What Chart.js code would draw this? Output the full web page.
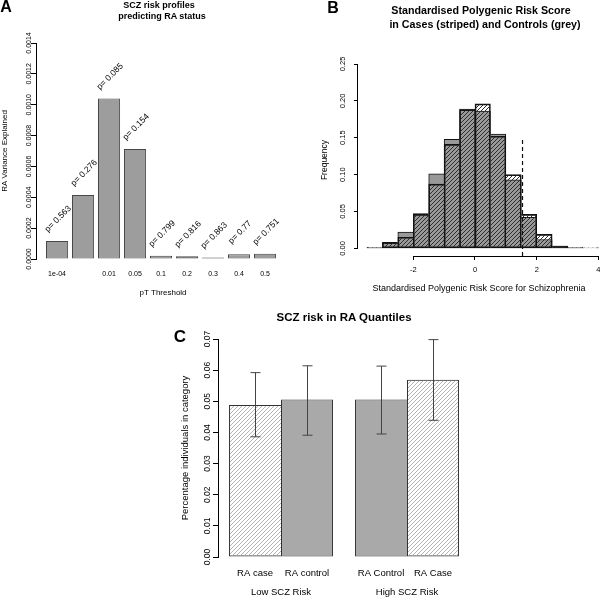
<!DOCTYPE html>
<html>
<head>
<meta charset="utf-8">
<script src="https://cdn.jsdelivr.net/npm/chart.js@4.4.1/dist/chart.umd.min.js"></script>
<style>
  body { margin: 0; background: #fff; }
  #page { position: relative; width: 600px; height: 597px; overflow: hidden; font-family: "Liberation Sans", Arial, sans-serif; }
  canvas { position: absolute; }
  .lbl { position: absolute; transform: translate(-50%, -50%); white-space: nowrap; font-weight: bold; line-height: 1; color: #000; }
</style>
</head>
<body>
<div id="page">
  <canvas id="chartA" width="300" height="300" style="left:0;top:0"></canvas>
  <canvas id="chartB" width="300" height="300" style="left:300px;top:0"></canvas>
  <canvas id="chartC" width="400" height="297" style="left:100px;top:300px"></canvas>

  <div class="lbl" style="left:6px;top:7px;font-size:16px">A</div>
  <div class="lbl" style="left:159px;top:5px;font-size:9px">SCZ risk profiles</div>
  <div class="lbl" style="left:162px;top:16px;font-size:9px">predicting RA status</div>

  <div class="lbl" style="left:333px;top:8px;font-size:16px">B</div>
  <div class="lbl" style="left:481px;top:10px;font-size:10.7px">Standardised Polygenic Risk Score</div>
  <div class="lbl" style="left:485px;top:24px;font-size:10.7px">in Cases (striped) and Controls (grey)</div>

  <div class="lbl" style="left:180px;top:336px;font-size:17px">C</div>
  <div class="lbl" style="left:344px;top:318px;font-size:11.5px">SCZ risk in RA Quantiles</div>
</div>

<script>
// A - SCZ risk profiles predicting RA status
const thresholds = ['1e-04', '0.001', '0.01', '0.05', '0.1', '0.2', '0.3', '0.4', '0.5'];
const varianceExplained = [0.000117, 0.000415, 0.00104, 0.000713, 0.000021, 0.000018, 0.000009, 0.00003, 0.000034];
const pValues = ['0.563', '0.276', '0.085', '0.154', '0.799', '0.816', '0.863', '0.77', '0.751'];
const yTicksA = [0, 0.0002, 0.0004, 0.0006, 0.0008, 0.0010, 0.0012, 0.0014];

// B - standardised PRS histogram (bin width 0.5, from -3.5 to 4)
const binMids = [-3.25, -2.75, -2.25, -1.75, -1.25, -0.75, -0.25, 0.25, 0.75, 1.25, 1.75, 2.25, 2.75, 3.25, 3.75];
const controlFreq = [0.001, 0.007, 0.022, 0.045, 0.101, 0.148, 0.189, 0.186, 0.155, 0.093, 0.042, 0.012, 0.003, 0.001, 0.0005];
const caseFreq = [0.001, 0.008, 0.015, 0.047, 0.087, 0.141, 0.188, 0.196, 0.152, 0.100, 0.046, 0.019, 0.003, 0.001, 0.0005];
const xTicksB = [-2, 0, 2, 4];
const yTicksB = [0, 0.05, 0.10, 0.15, 0.20, 0.25];
const yMinB = -0.0104;
const cutoff = 1.54;
const cutoffTop = 0.15;

// C - SCZ risk in RA quantiles
const groups = ['Low SCZ Risk', 'High SCZ Risk'];
const leftLabels = ['RA case', 'RA Control'];
const rightLabels = ['RA control', 'RA Case'];
const leftIsCase = [true, false];
const rightIsCase = [false, true];
const leftValues = [0.0488, 0.0506];
const rightValues = [0.0506, 0.0569];
const leftLow = [0.0386, 0.0395];
const leftHigh = [0.0592, 0.0613];
const rightLow = [0.0391, 0.0439];
const rightHigh = [0.0614, 0.0698];
const yTicksC = [0, 0.01, 0.02, 0.03, 0.04, 0.05, 0.06, 0.07];

const FONT = '"Liberation Sans", Arial, Helvetica, sans-serif';
Chart.defaults.font.family = FONT;
Chart.defaults.color = '#000';

function hatch(canvasId, lineColor, size) {
    const tile = document.createElement('canvas');
    tile.width = size;
    tile.height = size;
    const g = tile.getContext('2d');
    g.strokeStyle = lineColor;
    g.lineWidth = 1;
    g.beginPath();
    g.moveTo(0, size); g.lineTo(size, 0);
    g.moveTo(-1, 1); g.lineTo(1, -1);
    g.moveTo(size - 1, size + 1); g.lineTo(size + 1, size - 1);
    g.stroke();
    return document.getElementById(canvasId).getContext('2d').createPattern(tile, 'repeat');
}

function fixScale(w, h) {
    return function (s) {
        if (w !== null) s.width = w;
        if (h !== null) s.height = h;
        s.paddingLeft = 0; s.paddingRight = 0;
        s.paddingTop = 0; s.paddingBottom = 0;
    };
}

// shared edge between two touching bars is drawn only once, by the taller one
function histBorders(values) {
    return function (ctx) {
        const i = ctx.dataIndex;
        const v = values[i];
        return {
            top: 1,
            bottom: 1,
            left: (i === 0 || v >= values[i - 1]) ? 1 : 0,
            right: (i === values.length - 1 || v > values[i + 1]) ? 1 : 0
        };
    };
}

const baseOptions = {
    responsive: false,
    animation: false,
    devicePixelRatio: 1,
    plugins: { legend: { display: false }, tooltip: { enabled: false }, title: { display: false } }
};

// p-value labels above the bars, rotated 45 degrees
const pLabelPlugin = {
    id: 'pLabels',
    afterDatasetsDraw(chart) {
        const ctx = chart.ctx;
        ctx.save();
        ctx.font = '8.5px ' + FONT;
        ctx.fillStyle = '#000';
        ctx.textAlign = 'center';
        ctx.textBaseline = 'middle';
        chart.getDatasetMeta(0).data.forEach((bar, i) => {
            ctx.save();
            ctx.translate(bar.x + 1, bar.y - 22);
            ctx.rotate(-Math.PI / 4);
            ctx.fillText('p= ' + pValues[i], 0, 0);
            ctx.restore();
        });
        ctx.restore();
    }
};

// R style axis lines that only run between the first and last tick
const rAxesPlugin = {
    id: 'rAxes',
    afterDraw(chart) {
        const { ctx, chartArea, scales: { x, y } } = chart;
        ctx.save();
        ctx.strokeStyle = '#000';
        ctx.lineWidth = 1;
        ctx.beginPath();
        const ax = Math.round(chartArea.left) - 0.5;
        ctx.moveTo(ax, y.getPixelForValue(yTicksB[0]));
        ctx.lineTo(ax, y.getPixelForValue(yTicksB[yTicksB.length - 1]));
        const ay = Math.round(chartArea.bottom) + 0.5;
        ctx.moveTo(x.getPixelForValue(xTicksB[0]), ay);
        ctx.lineTo(x.getPixelForValue(xTicksB[xTicksB.length - 1]), ay);
        ctx.stroke();
        ctx.restore();
    }
};

// error bars + per bar labels for panel C
const barExtrasPlugin = {
    id: 'barExtras',
    afterDatasetsDraw(chart) {
        const { ctx, chartArea, scales: { y } } = chart;
        const lows = [leftLow, rightLow];
        const highs = [leftHigh, rightHigh];
        const names = [leftLabels, rightLabels];
        ctx.save();
        ctx.strokeStyle = '#444';
        ctx.lineWidth = 1;
        ctx.font = '9.5px ' + FONT;
        ctx.fillStyle = '#000';
        ctx.textAlign = 'center';
        ctx.textBaseline = 'middle';
        [0, 1].forEach(d => {
            chart.getDatasetMeta(d).data.forEach((bar, i) => {
                const x = Math.round(bar.x) + 0.5;
                const y1 = y.getPixelForValue(lows[d][i]);
                const y2 = y.getPixelForValue(highs[d][i]);
                ctx.beginPath();
                ctx.moveTo(x, y1); ctx.lineTo(x, y2);
                ctx.moveTo(x - 5, y1); ctx.lineTo(x + 5, y1);
                ctx.moveTo(x - 5, y2); ctx.lineTo(x + 5, y2);
                ctx.stroke();
                ctx.fillText(names[d][i], bar.x, chartArea.bottom + 16);
            });
        });
        ctx.restore();
    }
};

// ---------- Panel A ----------
new Chart(document.getElementById('chartA'), {
    type: 'bar',
    data: {
        datasets: [{
            data: varianceExplained.map((v, i) => ({ x: i, y: v })),
            backgroundColor: '#9d9d9d',
            borderColor: '#474747',
            borderWidth: 1,
            borderSkipped: false,
            barPercentage: 0.85,
            categoryPercentage: 1
        }]
    },
    options: {
        ...baseOptions,
        layout: { padding: { left: 0, top: 43, right: 10, bottom: 0 } },
        scales: {
            x: {
                type: 'linear', min: -0.81, max: 8.96, offset: false,
                afterBuildTicks: s => { s.ticks = thresholds.map((t, i) => ({ value: i })); },
                afterFit: fixScale(null, 41),
                grid: { display: false, drawTicks: false, offset: false },
                border: { display: false },
                ticks: {
                    autoSkip: false, maxRotation: 0, padding: 10.8, font: { size: 7 },
                    // R drops the 0.001 label because it overlaps 1e-04
                    callback: v => (v === 1 ? '' : thresholds[v])
                },
                title: { display: true, text: 'pT Threshold', font: { size: 8 }, padding: { top: 0, bottom: 2.2 } }
            },
            y: {
                min: 0, max: 0.0014,
                afterBuildTicks: s => { s.ticks = yTicksA.map(v => ({ value: v })); },
                afterFit: fixScale(36, null),
                grid: { drawOnChartArea: false, drawTicks: true, tickLength: 5, color: '#000' },
                border: { display: true, color: '#000', width: 1 },
                ticks: { minRotation: 90, maxRotation: 90, crossAlign: 'center', padding: -8.5, font: { size: 7 }, callback: v => v.toFixed(4) },
                title: { display: true, text: 'RA Variance Explained', font: { size: 8 }, padding: { top: 0, bottom: 0 } }
            }
        }
    },
    plugins: [pLabelPlugin]
});

// ---------- Panel B ----------
new Chart(document.getElementById('chartB'), {
    type: 'bar',
    data: {
        datasets: [
            {
                type: 'line',
                data: [{ x: cutoff, y: yMinB }, { x: cutoff, y: cutoffTop }],
                borderColor: '#111',
                borderWidth: 1.2,
                borderDash: [4, 3],
                pointRadius: 0,
                fill: false,
                order: 0
            },
            {
                label: 'Cases',
                data: binMids.map((m, i) => ({ x: m, y: caseFreq[i] })),
                backgroundColor: hatch('chartB', '#2e2e2e', 4),
                borderColor: '#111',
                borderWidth: histBorders(caseFreq),
                borderSkipped: false,
                grouped: false,
                barPercentage: 1,
                categoryPercentage: 1,
                order: 1
            },
            {
                label: 'Controls',
                data: binMids.map((m, i) => ({ x: m, y: controlFreq[i] })),
                backgroundColor: '#999999',
                borderColor: '#111',
                borderWidth: histBorders(controlFreq),
                borderSkipped: false,
                grouped: false,
                barPercentage: 1,
                categoryPercentage: 1,
                order: 2
            }
        ]
    },
    options: {
        ...baseOptions,
        layout: { padding: { left: 0, top: 64, right: 0, bottom: 0 } },
        scales: {
            x: {
                type: 'linear', min: -3.79, max: 4.05, offset: false,
                afterBuildTicks: s => { s.ticks = xTicksB.map(v => ({ value: v })); },
                afterFit: fixScale(null, 44),
                grid: { drawOnChartArea: false, drawTicks: true, tickLength: 4, color: '#000', offset: false },
                border: { display: false },
                ticks: { autoSkip: false, maxRotation: 0, padding: 5.5, font: { size: 7.5 } },
                title: { display: true, text: 'Standardised Polygenic Risk Score for Schizophrenia', font: { size: 9 }, padding: { top: 0, bottom: 6.3 } }
            },
            y: {
                min: yMinB, max: 0.25,
                afterBuildTicks: s => { s.ticks = yTicksB.map(v => ({ value: v })); },
                afterFit: fixScale(58, null),
                grid: { drawOnChartArea: false, drawTicks: true, tickLength: 4, color: '#000' },
                border: { display: false },
                ticks: { minRotation: 90, maxRotation: 90, crossAlign: 'center', padding: 4.2, font: { size: 7.5 }, callback: v => v.toFixed(2) },
                title: { display: true, text: 'Frequency', font: { size: 8.5 }, padding: { top: 20, bottom: 0 } }
            }
        }
    },
    plugins: [rAxesPlugin]
});

// ---------- Panel C ----------
const hatchC = hatch('chartC', '#b4b4b4', 4);
const solidC = '#a9a9a9';
new Chart(document.getElementById('chartC'), {
    type: 'bar',
    data: {
        labels: groups,
        datasets: [
            {
                data: leftValues,
                backgroundColor: leftIsCase.map(c => (c ? hatchC : solidC)),
                borderColor: '#333',
                borderWidth: ctx => ({ top: 1, bottom: 1, left: 1, right: leftValues[ctx.dataIndex] > rightValues[ctx.dataIndex] ? 1 : 0 }),
                borderSkipped: false,
                barPercentage: 1,
                categoryPercentage: 0.825
            },
            {
                data: rightValues,
                backgroundColor: rightIsCase.map(c => (c ? hatchC : solidC)),
                borderColor: '#333',
                borderWidth: ctx => ({ top: 1, bottom: 1, right: 1, left: rightValues[ctx.dataIndex] >= leftValues[ctx.dataIndex] ? 1 : 0 }),
                borderSkipped: false,
                barPercentage: 1,
                categoryPercentage: 0.825
            }
        ]
    },
    options: {
        ...baseOptions,
        layout: { padding: { left: 0, top: 39, right: 30, bottom: 0 } },
        scales: {
            x: {
                afterFit: fixScale(null, 40),
                grid: { display: false, drawTicks: false },
                border: { display: false },
                ticks: { autoSkip: false, maxRotation: 0, padding: 29.3, font: { size: 9.5 } }
            },
            y: {
                min: 0, max: 0.07,
                afterBuildTicks: s => { s.ticks = yTicksC.map(v => ({ value: v })); },
                afterFit: fixScale(118, null),
                grid: { drawOnChartArea: false, drawTicks: true, tickLength: 5, color: '#000' },
                border: { display: true, color: '#000', width: 1 },
                ticks: { minRotation: 90, maxRotation: 90, crossAlign: 'center', padding: -3, font: { size: 8.5 }, callback: v => v.toFixed(2) },
                title: { display: true, text: 'Percentage individuals in category', font: { size: 9.5 }, padding: { top: 80, bottom: 0 } }
            }
        }
    },
    plugins: [barExtrasPlugin]
});
</script>
</body>
</html>
